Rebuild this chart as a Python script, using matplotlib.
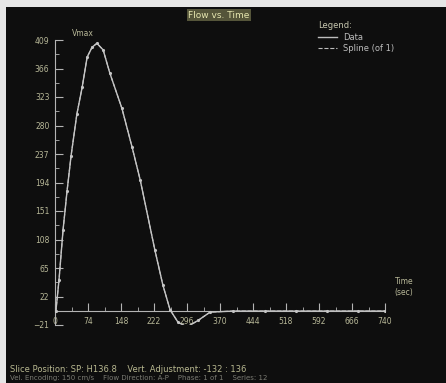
#!/usr/bin/env python3

import matplotlib
matplotlib.use('Agg')
import matplotlib.pyplot as plt
from matplotlib.patches import Rectangle
from matplotlib.lines import Line2D

# flow curve (time in sec, flow)
time_s = [0, 2, 9, 18, 27, 36, 49, 61, 72, 83, 94, 108, 123, 150, 173, 191,
          224, 242, 258, 276, 296, 321, 348, 400, 470, 540, 610, 680, 740]
flow = [0, 0, 47, 122, 181, 234, 297, 338, 383, 398, 404, 394, 359, 306, 247, 198,
        92, 39, 2, -17, -24, -14, -1.5, 0, 0, 0, 0, 0, 0]

x_ticks = [0, 74, 148, 222, 296, 370, 444, 518, 592, 666, 740]
y_ticks = [-21, 22, 65, 108, 151, 194, 237, 280, 323, 366, 409]

peak_idx = flow.index(max(flow))

W, H = 446, 383
fig = plt.figure(figsize=(W / 100, H / 100), dpi=100, facecolor='#e6e6e6')
fig.patches.append(Rectangle((6 / W, 0), 1 - 6 / W, 1 - 7 / H, transform=fig.transFigure,
                             facecolor='#0e0e0e', edgecolor='none', zorder=-5))

ax = fig.add_axes([55 / W, (H - 325) / H, 330 / W, 285 / H])
ax.set_zorder(2)
ax.set_facecolor('none')
ax.set_xlim(0, 740)
ax.set_ylim(-21, 409)

axis_col = '#b4b4b4'
label_col = '#b8b898'
ax.plot(time_s, flow, color='#c4c4c4', lw=1.0, marker='.', ms=2.5, zorder=3)
ax.plot(time_s, flow, color='#c4c4c4', lw=0.8, ls='--', zorder=2)

for side in ['top', 'right']:
    ax.spines[side].set_visible(False)
ax.spines['bottom'].set_position(('data', 0))
ax.spines['left'].set_color(axis_col)
ax.spines['bottom'].set_color(axis_col)

ax.set_xticks(x_ticks)
ax.set_yticks(y_ticks)
ax.set_xticks([t + 37 for t in x_ticks[:-1]], minor=True)
ax.set_yticks([t + 21.5 for t in y_ticks[:-1]], minor=True)
ax.tick_params(which='major', direction='in', length=6, width=0.8, color=axis_col,
               labelsize=5.5, labelcolor=label_col, pad=4)
ax.tick_params(which='minor', direction='in', length=3, width=0.6, color=axis_col)

ax.annotate('Vmax', xy=(time_s[peak_idx], flow[peak_idx]), xytext=(-10, 7),
            textcoords='offset points', ha='center', va='center',
            fontsize=5.5, color=label_col)

fig.text(219 / W, 1 - 15 / H, 'Flow vs. Time', ha='center', va='center',
         fontsize=6.5, color='#e6e6b0',
         bbox=dict(boxstyle='square,pad=0.15', facecolor='#55553a', edgecolor='none'))

handles = [Line2D([], [], color='#bdbdbd', lw=1.0),
           Line2D([], [], color='#bdbdbd', lw=0.8, ls='--')]
leg = fig.legend(handles, ['Data', 'Spline (of 1)'], title='Legend:', loc='upper left',
                 bbox_to_anchor=(314 / W, 1 - 17 / H), frameon=False, fontsize=6,
                 title_fontsize=6, handlelength=2.2, labelspacing=0.3, borderpad=0)
leg._legend_box.align = 'left'
leg.get_title().set_color('#c8c8b0')
for t in leg.get_texts():
    t.set_color('#bdbdbd')

fig.text(404 / W, 1 - 287 / H, 'Time\n(sec)', ha='center', va='center',
         fontsize=5.5, color=label_col, linespacing=1.4)

fig.text(10 / W, 1 - 369 / H, 'Slice Position: SP: H136.8    Vert. Adjustment: -132 : 136',
         ha='left', va='center', fontsize=6, color='#b8b890')
fig.text(10 / W, 1 - 378 / H, 'Vel. Encoding: 150 cm/s    Flow Direction: A-P    Phase: 1 of 1    Series: 12',
         ha='left', va='center', fontsize=5, color='#7a7a72')

plt.savefig('out.png', dpi=100, facecolor=fig.get_facecolor())
plt.close(fig)
